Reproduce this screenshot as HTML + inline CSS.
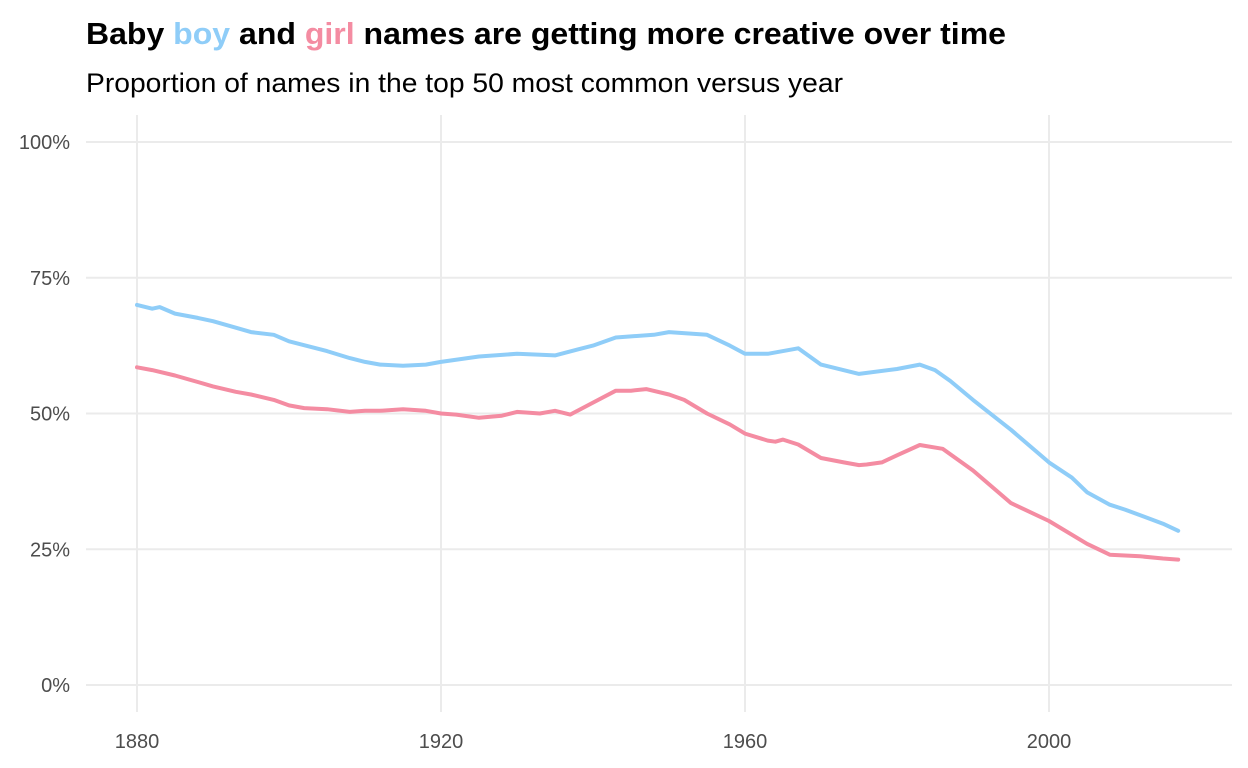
<!DOCTYPE html>
<html><head><meta charset="utf-8"><style>
body{margin:0;background:#fff;}
svg{display:block;font-family:"Liberation Sans Narrow","Liberation Sans",sans-serif;}
</style></head><body>
<svg id="chart" width="1248" height="768" viewBox="0 0 1248 768">
<text x="86" y="44" font-size="31" font-weight="bold" fill="#000" textLength="920" lengthAdjust="spacingAndGlyphs">Baby <tspan fill="#8fcdf8">boy</tspan> and <tspan fill="#f48ca2">girl</tspan> names are getting more creative over time</text>
<text x="86" y="92" font-size="27" fill="#000" textLength="757" lengthAdjust="spacingAndGlyphs">Proportion of names in the top 50 most common versus year</text>
<g id="grid"></g>
<g id="axes"></g>
<g id="series"></g>
</svg>
<script>
const yTicks=[0,25,50,75,100];
const yTickLabels=["0%","25%","50%","75%","100%"];
const xTicks=[1880,1920,1960,2000];
const xTickLabels=["1880","1920","1960","2000"];
const boyYears=[1880,1882,1883,1885,1888,1890,1893,1895,1898,1900,1905,1908,1910,1912,1915,1918,1920,1925,1930,1935,1938,1940,1943,1945,1948,1950,1955,1958,1960,1963,1967,1970,1975,1980,1983,1985,1987,1990,1995,2000,2003,2005,2008,2010,2015,2017];
const boyValues=[70,69.3,69.6,68.4,67.6,67,65.8,65,64.5,63.3,61.5,60.2,59.5,59,58.8,59,59.5,60.5,61,60.7,61.8,62.5,64,64.2,64.5,65,64.5,62.5,61,61,62,59,57.3,58.2,59,58,56,52.5,47,41,38.2,35.5,33.2,32.3,29.7,28.4];
const girlYears=[1880,1882,1885,1888,1890,1893,1895,1898,1900,1902,1905,1908,1910,1912,1915,1918,1920,1922,1925,1928,1930,1933,1935,1937,1940,1943,1945,1947,1950,1952,1955,1958,1960,1963,1964,1965,1967,1970,1973,1975,1976,1978,1980,1983,1986,1990,1995,2000,2005,2008,2012,2015,2017];
const girlValues=[58.5,58,57,55.8,55,54,53.5,52.5,51.5,51,50.8,50.3,50.5,50.5,50.8,50.5,50,49.8,49.2,49.6,50.3,50,50.5,49.8,52,54.2,54.2,54.5,53.5,52.5,50,48,46.3,45,44.8,45.2,44.3,41.8,41,40.5,40.6,41,42.3,44.2,43.5,39.5,33.5,30.2,26,24,23.7,23.3,23.1];
const X0=86,X1=1232,Y0=115,Y1=712;
const xs=y=>137+(y-1880)*7.6;
const ys=v=>685-v*5.43;
const NS="http://www.w3.org/2000/svg";
const grid=document.getElementById('grid'),axes=document.getElementById('axes'),series=document.getElementById('series');
function mk(t,a){const e=document.createElementNS(NS,t);for(const k in a)e.setAttribute(k,a[k]);return e;}
yTicks.forEach((v,i)=>{
 const l=mk('line',{x1:X0,x2:X1,y1:ys(v),y2:ys(v),stroke:'#ebebeb','stroke-width':2});
 
 
 grid.appendChild(l);
 const t=mk('text',{x:70,y:ys(v)+7,'text-anchor':'end','font-size':20,fill:'#4d4d4d'});
 
 
 t.textContent=yTickLabels[i];axes.appendChild(t);
});
xTicks.forEach((v,i)=>{
 const l=mk('line',{x1:xs(v),x2:xs(v),y1:Y0,y2:Y1,stroke:'#ebebeb','stroke-width':2});
 
 
 grid.appendChild(l);
 const t=mk('text',{x:xs(v),y:748,'text-anchor':'middle','font-size':20,fill:'#4d4d4d'});
 
 
 t.textContent=xTickLabels[i];axes.appendChild(t);
});
function line(yrs,vals,c,name){
 const d=yrs.map((y,i)=>(i?'L':'M')+xs(y).toFixed(1)+','+ys(vals[i]).toFixed(1)).join('');
 const p=mk('path',{d:d,fill:'none',stroke:c,'stroke-width':4,'stroke-linejoin':'round','stroke-linecap':'round'});
 
 
 series.appendChild(p);
}
line(boyYears,boyValues,'#8fcdf8','boy-line');
line(girlYears,girlValues,'#f48ca2','girl-line');
</script>
</body></html>
